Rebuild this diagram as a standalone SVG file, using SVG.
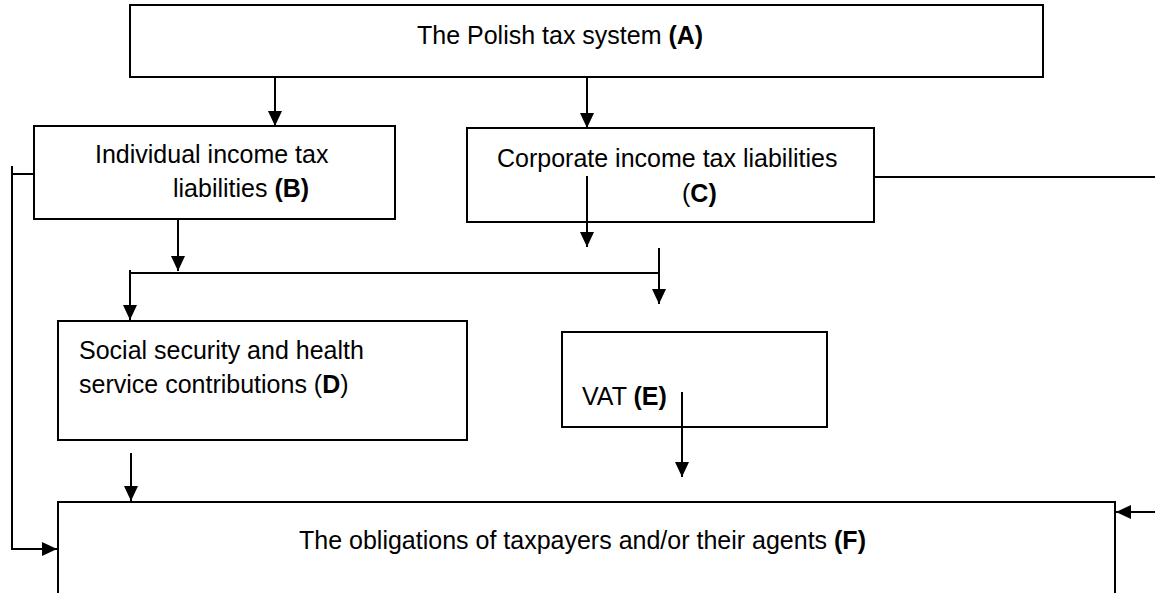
<svg xmlns="http://www.w3.org/2000/svg" width="1155" height="593" viewBox="0 0 1155 593">
<style>
  .box { fill: #ffffff; stroke: #000000; stroke-width: 2; }
  .lbl { font-family: "Liberation Sans", Arial, sans-serif; font-size: 25px; fill: #000000; }
  .b { font-weight: bold; }
  .conn { fill: none; stroke: #000000; stroke-width: 2; }
  .arr { marker-end: url(#ah); }
</style>
<defs>
  <marker id="ah" viewBox="0 0 15 14" refX="15" refY="7" markerWidth="15" markerHeight="14" markerUnits="userSpaceOnUse" orient="auto">
    <path d="M0,0 L15,7 L0,14 z" fill="#000000"/>
  </marker>
</defs>
<rect width="1155" height="593" fill="#ffffff"/>

<g id="nodeA">
  <rect class="box" x="130" y="5" width="913" height="72"/>
  <text class="lbl" x="417" y="44">The Polish tax system <tspan class="b">(A)</tspan></text>
</g>
<g id="nodeB">
  <rect class="box" x="34" y="126" width="361" height="93"/>
  <text class="lbl" x="95" y="163">Individual income tax</text>
  <text class="lbl" x="173" y="197">liabilities <tspan class="b">(B)</tspan></text>
</g>
<g id="nodeC">
  <rect class="box" x="467" y="128" width="407" height="94"/>
  <text class="lbl" x="497" y="167">Corporate income tax liabilities</text>
  <text class="lbl" x="682" y="202">(<tspan class="b">C)</tspan></text>
</g>
<g id="nodeD">
  <rect class="box" x="58" y="321" width="409" height="119"/>
  <text class="lbl" x="79" y="359">Social security and health</text>
  <text class="lbl" x="79" y="393">service contributions (<tspan class="b">D</tspan>)</text>
</g>
<g id="nodeE">
  <rect class="box" x="562" y="332" width="265" height="95"/>
  <text class="lbl" x="582" y="405">VAT <tspan class="b">(E)</tspan></text>
</g>
<g id="nodeF">
  <path class="box" d="M58,600 V502 H1115 V600"/>
  <text class="lbl" x="299" y="549">The obligations of taxpayers and/or their agents <tspan class="b">(F)</tspan></text>
</g>

<g id="connectors">
  <path class="conn arr" d="M275,77 V126"/>
  <path class="conn arr" d="M587,77 V128"/>
  <path class="conn arr" d="M178,219 V271"/>
  <path class="conn" d="M130,273 H659"/>
  <path class="conn arr" d="M130,270 V320"/>
  <path class="conn arr" d="M587,176 V247"/>
  <path class="conn arr" d="M659,248 V304"/>
  <path class="conn arr" d="M682,392 V477"/>
  <path class="conn arr" d="M131,453 V501"/>
  <path class="conn" d="M34,174 H12"/>
  <path class="conn arr" d="M12,166 V549 H57"/>
  <path class="conn" d="M874,177 H1155"/>
  <path class="conn arr" d="M1155,512 H1116"/>
</g>
</svg>
